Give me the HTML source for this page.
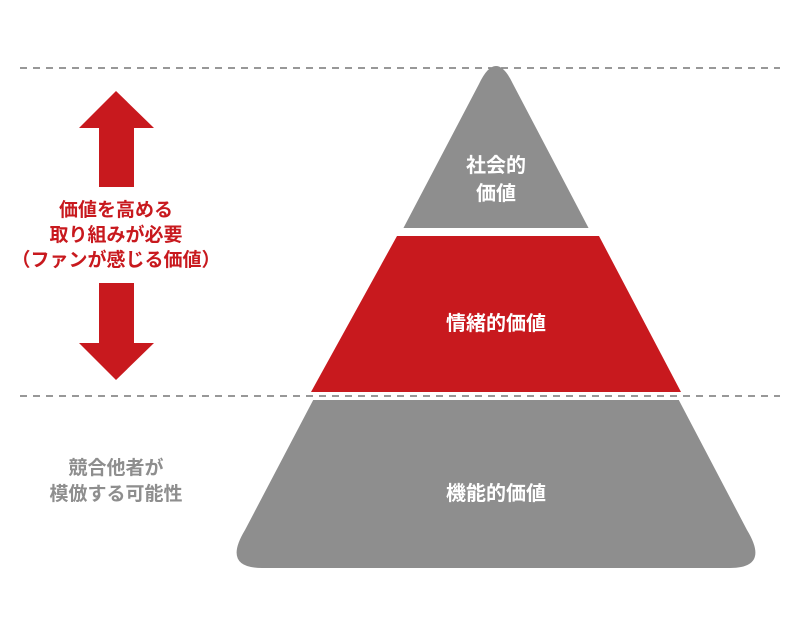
<!DOCTYPE html>
<html><head><meta charset="utf-8"><style>
html,body{margin:0;padding:0;background:#fff;}
svg{display:block;}
text{font-family:"Liberation Sans","Noto Sans CJK JP",sans-serif;font-weight:bold;text-anchor:middle;}
</style></head><body>
<svg width="800" height="636" viewBox="0 0 800 636">
<rect width="800" height="636" fill="#fff"/>
<line x1="20" y1="68" x2="780" y2="68" stroke="#777" stroke-width="1.5" stroke-dasharray="7,6"/>
<path d="M479,84 Q496,48 513,84 L747,530 Q770,568 730,568 L262,568 Q222,568 245,530 Z" fill="#8e8e8e"/>
<polygon points="397,236 599,236 681,392 311,392" fill="#c8191e"/>
<rect x="200" y="228" width="600" height="8" fill="#fff"/>
<rect x="200" y="392" width="600" height="8" fill="#fff"/>
<line x1="20" y1="396" x2="780" y2="396" stroke="#777" stroke-width="1.5" stroke-dasharray="7,6"/>
<polygon points="116,91 154,128 134,128 134,187 99,187 99,128 79,128" fill="#c8191e"/>
<polygon points="116,380 154,343 134,343 134,283 99,283 99,343 79,343" fill="#c8191e"/>
<g fill="#fff" font-size="20">
<text x="496" y="172">社会的</text>
<text x="496" y="200">価値</text>
<text x="496" y="330">情緒的価値</text>
<text x="496" y="500">機能的価値</text>
</g>
<g fill="#c8191e" font-size="19">
<text x="116" y="216">価値を高める</text>
<text x="116" y="241">取り組みが必要</text>
<text x="116" y="266">（ファンが感じる価値）</text>
</g>
<g fill="#8e8e8e" font-size="19">
<text x="116" y="474">競合他者が</text>
<text x="116" y="500">模倣する可能性</text>
</g>
</svg>
</body></html>
